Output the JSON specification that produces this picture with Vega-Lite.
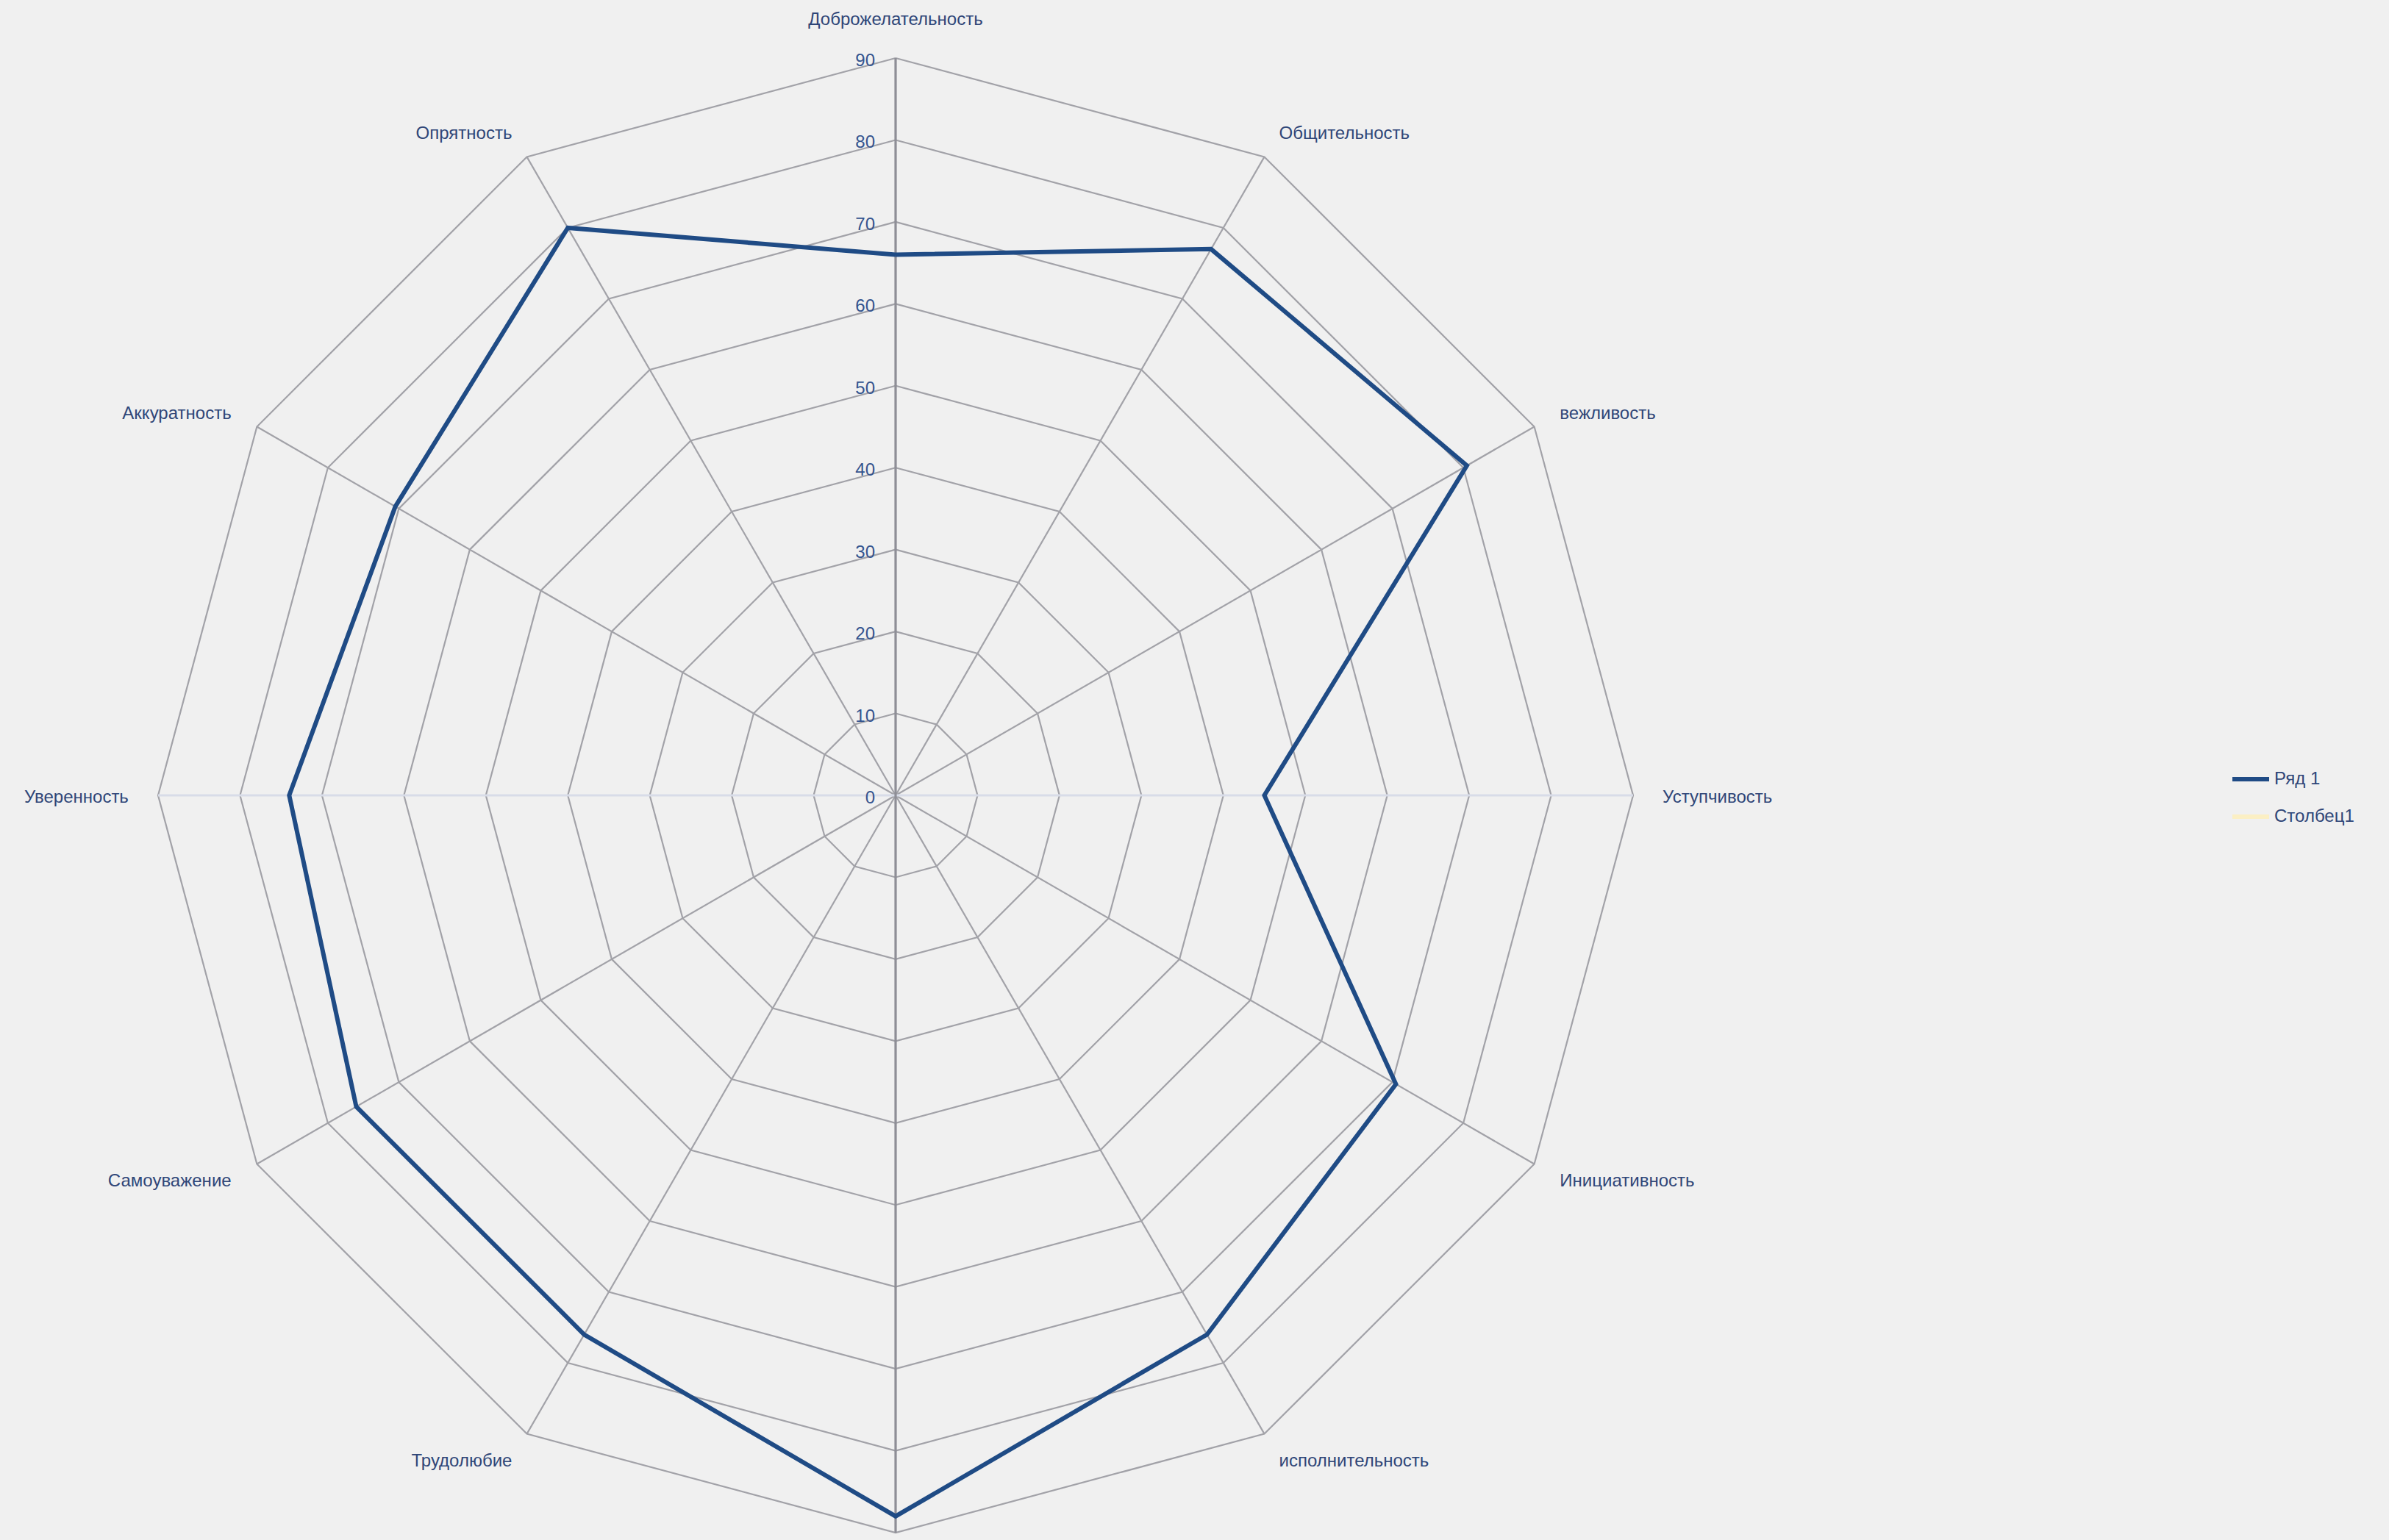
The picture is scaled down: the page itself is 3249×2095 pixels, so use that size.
{
  "$schema": "https://vega.github.io/schema/vega-lite/v6.json",
  "width": 2006,
  "height": 2006,
  "autosize": {"type": "none"},
  "padding": {"left": 215, "top": 79, "right": 1028, "bottom": 10},
  "background": "#f0f0f0",
  "config": {"view": {"stroke": null}, "font": "Liberation Sans"},
  "datasets": {
    "scores": [
      {"i": 0, "name": "Доброжелательность", "value": 66, "series": "Ряд 1"},
      {"i": 1, "name": "Общительность", "value": 77, "series": "Ряд 1"},
      {"i": 2, "name": "вежливость", "value": 80.5, "series": "Ряд 1"},
      {"i": 3, "name": "Уступчивость", "value": 45, "series": "Ряд 1"},
      {"i": 4, "name": "Инициативность", "value": 70.5, "series": "Ряд 1"},
      {"i": 5, "name": "исполнительность", "value": 76, "series": "Ряд 1"},
      {"i": 6, "name": "", "value": 88, "series": "Ряд 1"},
      {"i": 7, "name": "Трудолюбие", "value": 76, "series": "Ряд 1"},
      {"i": 8, "name": "Самоуважение", "value": 76, "series": "Ряд 1"},
      {"i": 9, "name": "Уверенность", "value": 74, "series": "Ряд 1"},
      {"i": 10, "name": "Аккуратность", "value": 70.5, "series": "Ряд 1"},
      {"i": 11, "name": "Опрятность", "value": 80, "series": "Ряд 1"},
      {"i": 12, "name": "Доброжелательность", "value": 66, "series": "Ряд 1"}
    ],
    "rings": [
      {"level": 0, "i": [0, 1, 2, 3, 4, 5, 6, 7, 8, 9, 10, 11, 12]},
      {"level": 10, "i": [0, 1, 2, 3, 4, 5, 6, 7, 8, 9, 10, 11, 12]},
      {"level": 20, "i": [0, 1, 2, 3, 4, 5, 6, 7, 8, 9, 10, 11, 12]},
      {"level": 30, "i": [0, 1, 2, 3, 4, 5, 6, 7, 8, 9, 10, 11, 12]},
      {"level": 40, "i": [0, 1, 2, 3, 4, 5, 6, 7, 8, 9, 10, 11, 12]},
      {"level": 50, "i": [0, 1, 2, 3, 4, 5, 6, 7, 8, 9, 10, 11, 12]},
      {"level": 60, "i": [0, 1, 2, 3, 4, 5, 6, 7, 8, 9, 10, 11, 12]},
      {"level": 70, "i": [0, 1, 2, 3, 4, 5, 6, 7, 8, 9, 10, 11, 12]},
      {"level": 80, "i": [0, 1, 2, 3, 4, 5, 6, 7, 8, 9, 10, 11, 12]},
      {"level": 90, "i": [0, 1, 2, 3, 4, 5, 6, 7, 8, 9, 10, 11, 12]}
    ]
  },
  "layer": [
    {
      "data": {"name": "rings"},
      "transform": [
        {"flatten": ["i"]},
        {"filter": "datum.level > 0"},
        {"calculate": "datum.level * sin(datum.i * PI / 6)", "as": "x"},
        {"calculate": "datum.level * cos(datum.i * PI / 6)", "as": "y"}
      ],
      "mark": {"type": "line", "stroke": "#a2a2a8", "strokeWidth": 2.2},
      "encoding": {
        "x": {"field": "x", "type": "quantitative", "scale": {"domain": [-90, 90], "nice": false, "zero": false}, "axis": null},
        "y": {"field": "y", "type": "quantitative", "scale": {"domain": [-90, 90], "nice": false, "zero": false}, "axis": null},
        "detail": {"field": "level", "type": "nominal"},
        "order": {"field": "i", "type": "quantitative"}
      }
    },
    {
      "data": {"name": "rings"},
      "transform": [
        {"flatten": ["i"]},
        {"filter": "(datum.level == 0 || datum.level == 90) && datum.i < 12 && datum.i % 3 != 0"},
        {"calculate": "datum.level * sin(datum.i * PI / 6)", "as": "x"},
        {"calculate": "datum.level * cos(datum.i * PI / 6)", "as": "y"}
      ],
      "mark": {"type": "line", "stroke": "#a2a2a8", "strokeWidth": 2.2},
      "encoding": {
        "x": {"field": "x", "type": "quantitative"},
        "y": {"field": "y", "type": "quantitative"},
        "detail": {"field": "i", "type": "nominal"},
        "order": {"field": "level", "type": "quantitative"}
      }
    },
    {
      "data": {"name": "rings"},
      "transform": [
        {"flatten": ["i"]},
        {"filter": "(datum.level == 0 || datum.level == 90) && (datum.i == 3 || datum.i == 9)"},
        {"calculate": "datum.level * sin(datum.i * PI / 6)", "as": "x"},
        {"calculate": "datum.level * cos(datum.i * PI / 6)", "as": "y"}
      ],
      "mark": {"type": "line", "stroke": "#d8dce8", "strokeWidth": 3},
      "encoding": {
        "x": {"field": "x", "type": "quantitative"},
        "y": {"field": "y", "type": "quantitative"},
        "detail": {"field": "i", "type": "nominal"},
        "order": {"field": "level", "type": "quantitative"}
      }
    },
    {
      "data": {"name": "rings"},
      "transform": [
        {"flatten": ["i"]},
        {"filter": "(datum.level == 0 || datum.level == 90) && (datum.i == 0 || datum.i == 6)"},
        {"calculate": "datum.level * sin(datum.i * PI / 6)", "as": "x"},
        {"calculate": "datum.level * cos(datum.i * PI / 6)", "as": "y"}
      ],
      "mark": {"type": "line", "stroke": "#8e8e96", "strokeWidth": 3.2},
      "encoding": {
        "x": {"field": "x", "type": "quantitative"},
        "y": {"field": "y", "type": "quantitative"},
        "detail": {"field": "i", "type": "nominal"},
        "order": {"field": "level", "type": "quantitative"}
      }
    },
    {
      "data": {"name": "rings"},
      "transform": [
        {"flatten": ["i"]},
        {"filter": "datum.i == 0"},
        {"calculate": "datum.level * sin(datum.i * PI / 6)", "as": "x"},
        {"calculate": "datum.level * cos(datum.i * PI / 6)", "as": "y"}
      ],
      "mark": {"type": "text", "align": "right", "baseline": "middle", "dx": -28, "dy": 4, "fontSize": 24, "fill": "#34548f"},
      "encoding": {
        "x": {"field": "x", "type": "quantitative"},
        "y": {"field": "y", "type": "quantitative"},
        "text": {"field": "level", "type": "quantitative"}
      }
    },
    {
      "data": {"name": "scores"},
      "transform": [
        {"calculate": "datum.value * sin(datum.i * PI / 6)", "as": "x"},
        {"calculate": "datum.value * cos(datum.i * PI / 6)", "as": "y"}
      ],
      "mark": {"type": "line", "strokeWidth": 6, "strokeJoin": "miter"},
      "encoding": {
        "x": {"field": "x", "type": "quantitative"},
        "y": {"field": "y", "type": "quantitative"},
        "order": {"field": "i", "type": "quantitative"},
        "color": {
          "field": "series",
          "type": "nominal",
          "scale": {"domain": ["Ряд 1", "Столбец1"], "range": ["#1f4b85", "#fbefc4"]},
          "legend": {
            "title": null,
            "orient": "none",
            "legendX": 2818,
            "legendY": 953,
            "padding": 0,
            "symbolType": "stroke",
            "symbolSize": 2500,
            "symbolStrokeWidth": 6,
            "labelFontSize": 24,
            "labelColor": "#2f4678",
            "labelOffset": 4,
            "rowPadding": 11
          }
        }
      }
    },
    {
      "data": {"name": "scores"},
      "transform": [
        {"filter": "datum.i >= 1 && datum.i <= 5"},
        {"calculate": "93.6 * sin(datum.i * PI / 6)", "as": "x"},
        {"calculate": "93.6 * cos(datum.i * PI / 6)", "as": "y"}
      ],
      "mark": {"type": "text", "align": "left", "baseline": "middle", "dy": 3, "fontSize": 24, "fill": "#2f4678"},
      "encoding": {
        "x": {"field": "x", "type": "quantitative"},
        "y": {"field": "y", "type": "quantitative"},
        "text": {"field": "name", "type": "nominal"}
      }
    },
    {
      "data": {"name": "scores"},
      "transform": [
        {"filter": "datum.i >= 7 && datum.i <= 11"},
        {"calculate": "93.6 * sin(datum.i * PI / 6)", "as": "x"},
        {"calculate": "93.6 * cos(datum.i * PI / 6)", "as": "y"}
      ],
      "mark": {"type": "text", "align": "right", "baseline": "middle", "dy": 3, "fontSize": 24, "fill": "#2f4678"},
      "encoding": {
        "x": {"field": "x", "type": "quantitative"},
        "y": {"field": "y", "type": "quantitative"},
        "text": {"field": "name", "type": "nominal"}
      }
    },
    {
      "data": {"name": "scores"},
      "transform": [
        {"filter": "datum.i == 0"},
        {"calculate": "93.6 * sin(datum.i * PI / 6)", "as": "x"},
        {"calculate": "93.6 * cos(datum.i * PI / 6)", "as": "y"}
      ],
      "mark": {"type": "text", "align": "center", "baseline": "bottom", "fontSize": 24, "fill": "#2f4678"},
      "encoding": {
        "x": {"field": "x", "type": "quantitative"},
        "y": {"field": "y", "type": "quantitative"},
        "text": {"field": "name", "type": "nominal"}
      }
    }
  ]
}
